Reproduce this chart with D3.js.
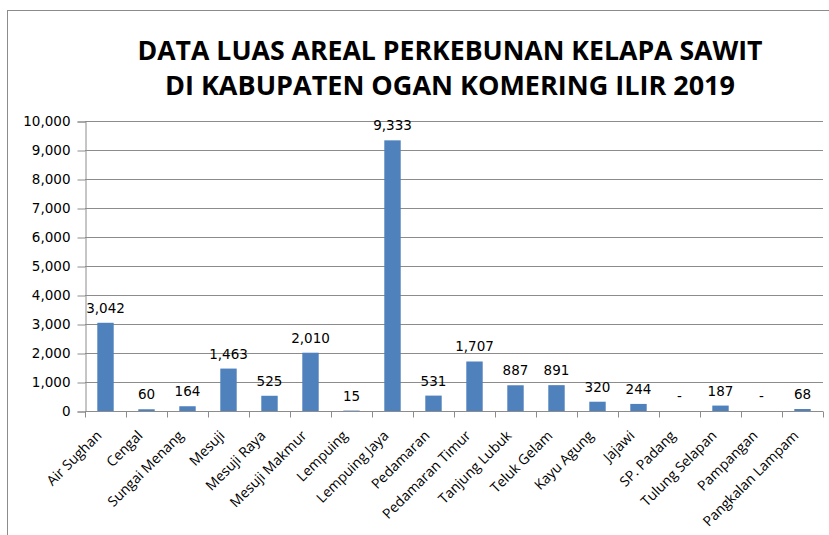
<!DOCTYPE html>
<html lang="id">
<head>
<meta charset="UTF-8">
<title>Data Luas Areal Perkebunan Kelapa Sawit</title>
<script src="https://d3js.org/d3.v7.min.js"></script>
<style>
  body { margin: 0; background: #fff; }
  svg { display: block; }
</style>
</head>
<body>
<div id="viz"></div>
<script>
  const kecamatan = ["Air Sughan", "Cengal", "Sungai Menang", "Mesuji", "Mesuji Raya", "Mesuji Makmur",
    "Lempuing", "Lempuing Jaya", "Pedamaran", "Pedamaran Timur", "Tanjung Lubuk", "Teluk Gelam",
    "Kayu Agung", "Jajawi", "SP. Padang", "Tulung Selapan", "Pampangan", "Pangkalan Lampam"];
  const luas = [3042, 60, 164, 1463, 525, 2010, 15, 9333, 531, 1707, 887, 891, 320, 244, null, 187, null, 68];
  const yTicks = [0, 1000, 2000, 3000, 4000, 5000, 6000, 7000, 8000, 9000, 10000];
  const titleLines = ["DATA LUAS AREAL PERKEBUNAN KELAPA SAWIT", "DI KABUPATEN OGAN KOMERING ILIR 2019"];

  const W = 829, H = 535;
  const margin = { left: 85, right: 6, top: 121, bottom: 124 };

  const svg = d3.select("#viz").append("svg").attr("width", W).attr("height", H);

  // chart border
  svg.append("rect")
    .attr("x", 7.5).attr("y", 10.5).attr("width", W + 10).attr("height", H + 10)
    .attr("fill", "none").attr("stroke", "#8c8c8c").attr("stroke-width", 1);

  // title
  svg.append("g").selectAll("text")
    .data(titleLines)
    .join("text")
    .attr("x", 450)
    .attr("y", (d, i) => 60 + i * 35)
    .attr("text-anchor", "middle")
    .attr("font-family", "'Open Sans', sans-serif")
    .attr("font-weight", "bold")
    .attr("font-size", "27px")
    .attr("fill", "#000")
    .attr("textLength", (d, i) => i === 0 ? 625 : 570)
    .attr("lengthAdjust", "spacingAndGlyphs")
    .text(d => d);

  const x = d3.scaleBand()
    .domain(kecamatan)
    .range([margin.left, W - margin.right])
    .paddingInner(0.6).paddingOuter(0.3);

  const y = d3.scaleLinear()
    .domain([0, 10000])
    .range([H - margin.bottom, margin.top]);

  // gridlines
  svg.append("g").selectAll("line")
    .data(yTicks.slice(1))
    .join("line")
    .attr("x1", margin.left).attr("x2", W - margin.right)
    .attr("y1", d => Math.round(y(d)) + 0.5).attr("y2", d => Math.round(y(d)) + 0.5)
    .attr("stroke", "#8c8c8c");

  // y axis
  const yAxis = svg.append("g")
    .attr("transform", `translate(${margin.left + 0.5},0.5)`)
    .call(d3.axisLeft(y).tickValues(yTicks).tickSize(8).tickPadding(7).tickFormat(d3.format(",")));
  yAxis.select(".domain").attr("stroke", "#8c8c8c");
  yAxis.selectAll(".tick line").attr("stroke", "#8c8c8c");
  yAxis.selectAll(".tick text")
    .attr("font-family", "'DejaVu Sans', Verdana, sans-serif")
    .attr("font-size", "13.5px").attr("fill", "#000");

  // bars
  const step = x.step();
  svg.append("g").selectAll("rect")
    .data(luas.map((v, i) => ({ k: kecamatan[i], v: v })).filter(d => d.v !== null))
    .join("rect")
    .attr("x", d => x(d.k))
    .attr("y", d => y(d.v))
    .attr("width", x.bandwidth())
    .attr("height", d => y(0) - y(d.v))
    .attr("fill", "#4f81bd");

  // x axis
  const baseY = Math.round(y(0)) + 0.5;
  svg.append("line")
    .attr("x1", margin.left).attr("x2", W - margin.right)
    .attr("y1", baseY).attr("y2", baseY)
    .attr("stroke", "#8c8c8c");
  svg.append("g").selectAll("line")
    .data(d3.range(kecamatan.length + 1))
    .join("line")
    .attr("x1", i => Math.round(margin.left + i * step) + 0.5)
    .attr("x2", i => Math.round(margin.left + i * step) + 0.5)
    .attr("y1", baseY).attr("y2", baseY + 6)
    .attr("stroke", "#8c8c8c");

  // category labels
  svg.append("g").selectAll("text")
    .data(kecamatan)
    .join("text")
    .attr("transform", d => `translate(${x(d) + x.bandwidth() / 2 - 3},${baseY + 25}) rotate(-45)`)
    .attr("text-anchor", "end")
    .attr("font-family", "'Open Sans', sans-serif")
    .attr("font-size", "14px")
    .attr("fill", "#000")
    .text(d => d);

  // data labels
  svg.append("g").selectAll("text")
    .data(luas.map((v, i) => ({ k: kecamatan[i], v: v })))
    .join("text")
    .attr("x", d => x(d.k) + x.bandwidth() / 2)
    .attr("y", d => (d.v === null ? y(0) : y(d.v)) - 10)
    .attr("text-anchor", "middle")
    .attr("font-family", "'DejaVu Sans', Verdana, sans-serif")
    .attr("font-size", "13.5px")
    .attr("fill", "#000")
    .text(d => d.v === null ? "-" : d3.format(",")(d.v));
</script>
</body>
</html>
